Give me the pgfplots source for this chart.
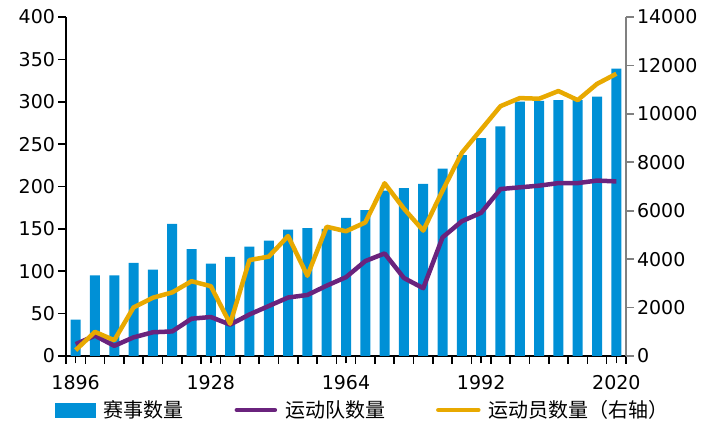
\documentclass[border=0pt]{standalone}
\usepackage{pgfplots}
\pgfplotsset{compat=1.18}
\usepackage{pgfplotstable}
\usepackage{fontspec}
\setmainfont{DejaVu Sans}
\newfontfamily\cjk{Noto Sans CJK SC}
\definecolor{cblue}{RGB}{0,144,214}
\definecolor{cpurple}{RGB}{106,35,125}
\definecolor{cgold}{RGB}{232,169,0}
\definecolor{cgray}{RGB}{128,128,128}
\pgfplotstableread{
x events nations athletes
0 43 14 241
1 95 24 997
2 95 12 651
3 110 22 2008
4 102 28 2407
5 156 29 2626
6 126 44 3089
7 109 46 2883
8 117 37 1332
9 129 49 3963
10 136 59 4104
11 149 69 4955
12 151 72 3314
13 150 83 5338
14 163 93 5151
15 172 112 5516
16 195 121 7134
17 198 92 6084
18 203 80 5179
19 221 140 6829
20 237 159 8391
21 257 169 9356
22 271 197 10318
23 300 199 10651
24 301 201 10625
25 302 204 10942
26 302 204 10568
27 306 207 11238
28 339 206 11656
}\olym
\pgfplotstableread{
x d
-0.5 -8.85
0.5 -8.85
1.5 -8.85
2.5 -8.85
3.5 -8.85
4.5 -8.85
5.5 -8.85
6.5 -8.85
7.5 -8.85
8.5 -8.85
9.5 -8.85
10.5 -8.85
11.5 -8.85
12.5 -8.85
13.5 -8.85
14.5 -8.85
15.5 -8.85
16.5 -8.85
17.5 -8.85
18.5 -8.85
19.5 -8.85
20.5 -8.85
21.5 -8.85
22.5 -8.85
23.5 -8.85
24.5 -8.85
25.5 -8.85
26.5 -8.85
27.5 -8.85
28.5 -8.85
}\xticks
\begin{document}
\begin{tikzpicture}
\useasboundingbox (-66bp,-76bp) rectangle (654bp,356bp);
\begin{axis}[
  scale only axis, width=560bp, height=339bp,
  xmin=-0.5, xmax=28.5, ymin=0, ymax=400,
  axis x line*=bottom, axis y line*=left,
  axis line style={-, line width=1.6bp, black},
  tick align=outside,
  major tick length=7.5bp,
  tick style={line width=1.6bp, black},
  xtick={0,7,14,21,28},
  xticklabels={1896,1928,1964,1992,2020},
  xticklabel style={yshift=-8bp},
  ytick={0,50,...,400},
  tick label style={font=\fontsize{19bp}{21bp}\selectfont},
  /pgf/number format/assume math mode=true,
  clip=false,
]
\addplot[ybar, bar width=10bp, fill=cblue, draw=none] table[x=x, y=events] {\olym};
\addplot[ycomb, black, line width=1.6bp, mark=none] table[x=x, y=d] {\xticks};
\addplot[cpurple, line width=4.5bp, line join=round] table[x=x, y=nations] {\olym};
\end{axis}
\begin{axis}[
  scale only axis, width=560bp, height=339bp,
  xmin=-0.5, xmax=28.5, ymin=0, ymax=14000,
  axis x line=none, axis y line*=right,
  axis line style={-, line width=1.6bp, cgray},
  tick align=outside,
  major tick length=7.5bp,
  ytick style={line width=1.6bp, cgray},
  ytick={0,2000,...,14000},
  scaled y ticks=false,
  yticklabel style={/pgf/number format/1000 sep={}},
  tick label style={font=\fontsize{19bp}{21bp}\selectfont},
  /pgf/number format/assume math mode=true,
  clip=false,
  legend columns=3,
  legend style={at={(rel axis cs:-0.0196,-0.1593)}, anchor=west, draw=none, fill=none,
    inner sep=0pt, font=\cjk\fontsize{20bp}{22bp}\selectfont,
    /tikz/every odd column/.append style={column sep=6bp},
    /tikz/every even column/.append style={column sep=49bp}},
]
\addlegendimage{legend image code/.code={\fill[cblue] (0bp,-7bp) rectangle (40bp,7bp);}}
\addlegendentry{赛事数量}
\addlegendimage{legend image code/.code={\draw[cpurple, line width=4.5bp, line cap=round] (2bp,0bp) -- (40bp,0bp);}}
\addlegendentry{运动队数量}
\addplot[cgold, line width=4.5bp, line join=round,
  legend image code/.code={\draw[cgold, line width=4.5bp, line cap=round] (2bp,0bp) -- (42bp,0bp);}] table[x=x, y=athletes] {\olym};
\addlegendentry{运动员数量（右轴）}
\end{axis}
\end{tikzpicture}
\end{document}
